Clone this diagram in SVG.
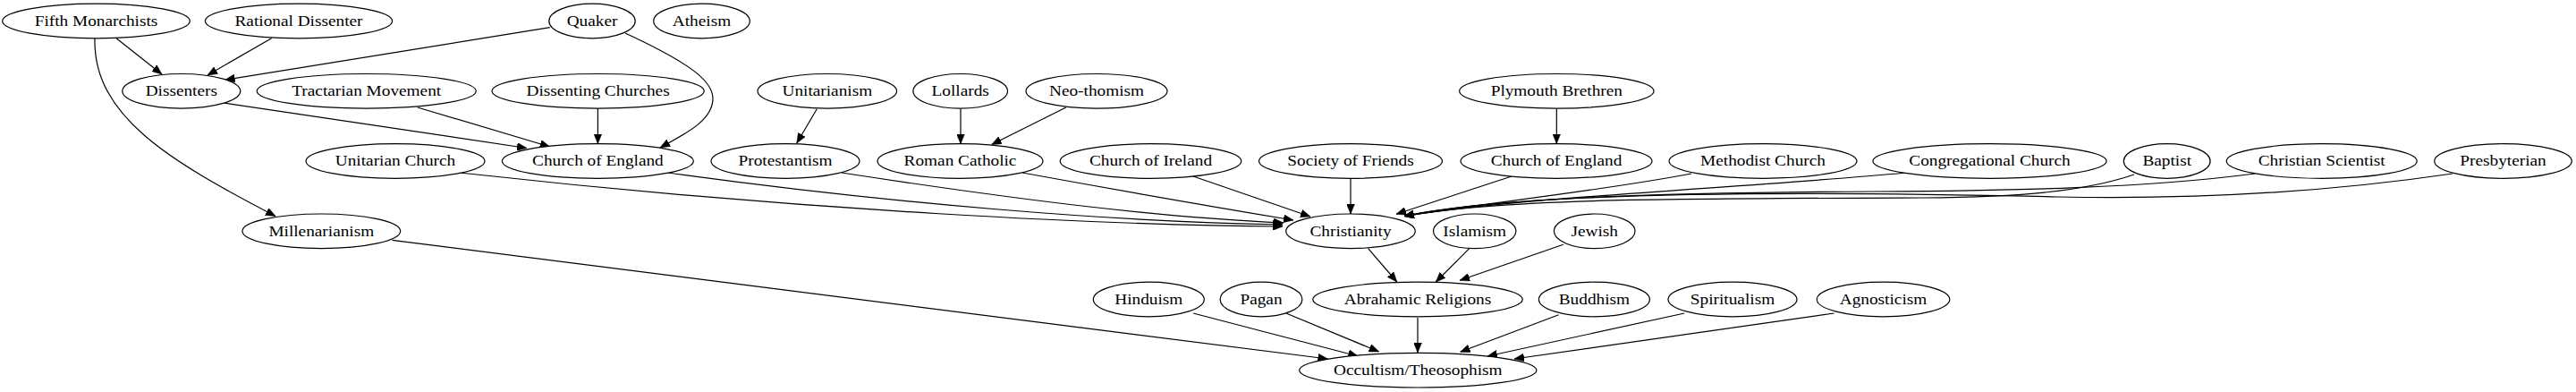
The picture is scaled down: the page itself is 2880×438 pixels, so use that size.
<svg xmlns="http://www.w3.org/2000/svg" width="2880" height="438" viewBox="0 0 2880 438">
<style>
  .node ellipse { fill: #ffffff; stroke: #000000; stroke-width: 1.2; }
  .node text { font-family: "Liberation Serif", "Times New Roman", serif; font-size: 17px; text-anchor: middle; fill: #000000; }
  #edges path { fill: none; stroke: #000000; stroke-width: 1.2; marker-end: url(#arrow); }
</style>
<defs>
  <marker id="arrow" markerWidth="11" markerHeight="9" refX="11" refY="4.5" orient="auto" markerUnits="userSpaceOnUse">
    <path d="M0,0 L11,4.5 L0,9 Z" fill="#000000" stroke="#000000" stroke-width="0.5"/>
  </marker>
</defs>
<rect width="2880" height="438" fill="#ffffff"/>
<g id="edges">
  <path d="M130,42.7 L181,83"/>
  <path d="M303.6,42.7 L232,84"/>
  <path d="M614.8,30.7 L251.5,89.3"/>
  <path d="M699,37 C770,70 797,90 797,110 C797,135 765,150 738,165"/>
  <path d="M106,43 C104,130 190,180 308,241.5"/>
  <path d="M250,115 L589,165.5"/>
  <path d="M466.8,120 L614.8,164"/>
  <path d="M668.4,121 L668.4,160.5"/>
  <path d="M913.3,121.7 L890.8,160"/>
  <path d="M1074,121.7 L1074,160.7"/>
  <path d="M1191.8,120 L1108.7,161.5"/>
  <path d="M1740.3,121.7 L1740.3,160.5"/>
  <path d="M514,193 C900,236 1250,252 1434,253"/>
  <path d="M747,193 C1000,228 1250,248 1434,251"/>
  <path d="M941,193 C1150,225 1300,243 1435,249"/>
  <path d="M1143,193 C1280,218 1380,235 1446,246"/>
  <path d="M1334,197 L1465,242"/>
  <path d="M1510,199.3 L1510,239"/>
  <path d="M1690,197 L1561,239.3"/>
  <path d="M1891,194 C1780,215 1650,228 1570,241.5"/>
  <path d="M2131,193 C1950,210 1700,220 1570,241.5"/>
  <path d="M2386,195 C2330,214 2260,220 2150,221 C1850,222 1680,222 1570,241.5"/>
  <path d="M2521,194 C2400,210 2250,213 2100,214 C1850,215 1660,222 1570,241.5"/>
  <path d="M2742,194 C2600,215 2450,223 2300,220 C2000,213 1700,214 1570,241.5"/>
  <path d="M1529.6,277.7 L1561.8,315"/>
  <path d="M1642.7,277.7 L1605.3,315"/>
  <path d="M1747.7,273.3 L1632.1,313.3"/>
  <path d="M438.5,268.3 L1484.5,401"/>
  <path d="M1334.1,350 L1518.3,398"/>
  <path d="M1437.9,350 L1541.7,393"/>
  <path d="M1585,355 L1585,394"/>
  <path d="M1742.6,351.7 L1632.5,393.3"/>
  <path d="M1883.2,350 L1663,398"/>
  <path d="M2050.6,350 L1693,401"/>
</g>
<g id="fifth_monarchists" class="node"><ellipse cx="107.5" cy="23.5" rx="104.8" ry="19.3"/><text transform="translate(107.5,28.8) scale(1.135,1)">Fifth Monarchists</text></g>
<g id="rational_dissenter" class="node"><ellipse cx="334" cy="23.5" rx="104.6" ry="19.3"/><text transform="translate(334,28.8) scale(1.135,1)">Rational Dissenter</text></g>
<g id="quaker" class="node"><ellipse cx="662" cy="23.5" rx="48.2" ry="19.3"/><text transform="translate(662,28.8) scale(1.135,1)">Quaker</text></g>
<g id="atheism" class="node"><ellipse cx="784.5" cy="23.5" rx="53.8" ry="19.3"/><text transform="translate(784.5,28.8) scale(1.135,1)">Atheism</text></g>
<g id="dissenters" class="node"><ellipse cx="202.8" cy="101.8" rx="66" ry="19.3"/><text transform="translate(202.8,107.1) scale(1.135,1)">Dissenters</text></g>
<g id="tractarian_movement" class="node"><ellipse cx="409.7" cy="101.8" rx="122.5" ry="19.3"/><text transform="translate(409.7,107.1) scale(1.135,1)">Tractarian Movement</text></g>
<g id="dissenting_churches" class="node"><ellipse cx="668.6" cy="101.8" rx="118.6" ry="19.3"/><text transform="translate(668.6,107.1) scale(1.135,1)">Dissenting Churches</text></g>
<g id="unitarianism" class="node"><ellipse cx="924.8" cy="101.8" rx="77.8" ry="19.3"/><text transform="translate(924.8,107.1) scale(1.135,1)">Unitarianism</text></g>
<g id="lollards" class="node"><ellipse cx="1073.7" cy="101.8" rx="52.8" ry="19.3"/><text transform="translate(1073.7,107.1) scale(1.135,1)">Lollards</text></g>
<g id="neo_thomism" class="node"><ellipse cx="1226" cy="101.8" rx="79" ry="19.3"/><text transform="translate(1226,107.1) scale(1.135,1)">Neo-thomism</text></g>
<g id="plymouth_brethren" class="node"><ellipse cx="1740.3" cy="101.8" rx="108.7" ry="19.3"/><text transform="translate(1740.3,107.1) scale(1.135,1)">Plymouth Brethren</text></g>
<g id="unitarian_church" class="node"><ellipse cx="442" cy="180" rx="100" ry="19.3"/><text transform="translate(442,185.3) scale(1.135,1)">Unitarian Church</text></g>
<g id="church_of_england_1" class="node"><ellipse cx="668.4" cy="180" rx="107" ry="19.3"/><text transform="translate(668.4,185.3) scale(1.135,1)">Church of England</text></g>
<g id="protestantism" class="node"><ellipse cx="878" cy="180" rx="83" ry="19.3"/><text transform="translate(878,185.3) scale(1.135,1)">Protestantism</text></g>
<g id="roman_catholic" class="node"><ellipse cx="1073.5" cy="180" rx="92.5" ry="19.3"/><text transform="translate(1073.5,185.3) scale(1.135,1)">Roman Catholic</text></g>
<g id="church_of_ireland" class="node"><ellipse cx="1286.5" cy="180" rx="101.3" ry="19.3"/><text transform="translate(1286.5,185.3) scale(1.135,1)">Church of Ireland</text></g>
<g id="society_of_friends" class="node"><ellipse cx="1510" cy="180" rx="102.5" ry="19.3"/><text transform="translate(1510,185.3) scale(1.135,1)">Society of Friends</text></g>
<g id="church_of_england_2" class="node"><ellipse cx="1740" cy="180" rx="107" ry="19.3"/><text transform="translate(1740,185.3) scale(1.135,1)">Church of England</text></g>
<g id="methodist_church" class="node"><ellipse cx="1971" cy="180" rx="105" ry="19.3"/><text transform="translate(1971,185.3) scale(1.135,1)">Methodist Church</text></g>
<g id="congregational_church" class="node"><ellipse cx="2224.5" cy="180" rx="130.6" ry="19.3"/><text transform="translate(2224.5,185.3) scale(1.135,1)">Congregational Church</text></g>
<g id="baptist" class="node"><ellipse cx="2422.7" cy="180" rx="48.4" ry="19.3"/><text transform="translate(2422.7,185.3) scale(1.135,1)">Baptist</text></g>
<g id="christian_scientist" class="node"><ellipse cx="2595.7" cy="180" rx="106.5" ry="19.3"/><text transform="translate(2595.7,185.3) scale(1.135,1)">Christian Scientist</text></g>
<g id="presbyterian" class="node"><ellipse cx="2798.5" cy="180" rx="76.8" ry="19.3"/><text transform="translate(2798.5,185.3) scale(1.135,1)">Presbyterian</text></g>
<g id="millenarianism" class="node"><ellipse cx="359.3" cy="258.3" rx="88.4" ry="19.3"/><text transform="translate(359.3,263.6) scale(1.135,1)">Millenarianism</text></g>
<g id="christianity" class="node"><ellipse cx="1510" cy="258.3" rx="72.3" ry="19.3"/><text transform="translate(1510,263.6) scale(1.135,1)">Christianity</text></g>
<g id="islamism" class="node"><ellipse cx="1648.7" cy="258.3" rx="46.2" ry="19.3"/><text transform="translate(1648.7,263.6) scale(1.135,1)">Islamism</text></g>
<g id="jewish" class="node"><ellipse cx="1782.7" cy="258.3" rx="45.3" ry="19.3"/><text transform="translate(1782.7,263.6) scale(1.135,1)">Jewish</text></g>
<g id="hinduism" class="node"><ellipse cx="1284.3" cy="334.5" rx="62" ry="19.3"/><text transform="translate(1284.3,339.8) scale(1.135,1)">Hinduism</text></g>
<g id="pagan" class="node"><ellipse cx="1410" cy="334.5" rx="45.9" ry="19.3"/><text transform="translate(1410,339.8) scale(1.135,1)">Pagan</text></g>
<g id="abrahamic_religions" class="node"><ellipse cx="1585" cy="334.5" rx="117.2" ry="19.3"/><text transform="translate(1585,339.8) scale(1.135,1)">Abrahamic Religions</text></g>
<g id="buddhism" class="node"><ellipse cx="1782.4" cy="334.5" rx="62" ry="19.3"/><text transform="translate(1782.4,339.8) scale(1.135,1)">Buddhism</text></g>
<g id="spiritualism" class="node"><ellipse cx="1937" cy="334.5" rx="72" ry="19.3"/><text transform="translate(1937,339.8) scale(1.135,1)">Spiritualism</text></g>
<g id="agnosticism" class="node"><ellipse cx="2105.5" cy="334.5" rx="74.3" ry="19.3"/><text transform="translate(2105.5,339.8) scale(1.135,1)">Agnosticism</text></g>
<g id="occultism_theosophism" class="node"><ellipse cx="1585.3" cy="413.7" rx="132.6" ry="19.3"/><text transform="translate(1585.3,419) scale(1.135,1)">Occultism/Theosophism</text></g>
</svg>
